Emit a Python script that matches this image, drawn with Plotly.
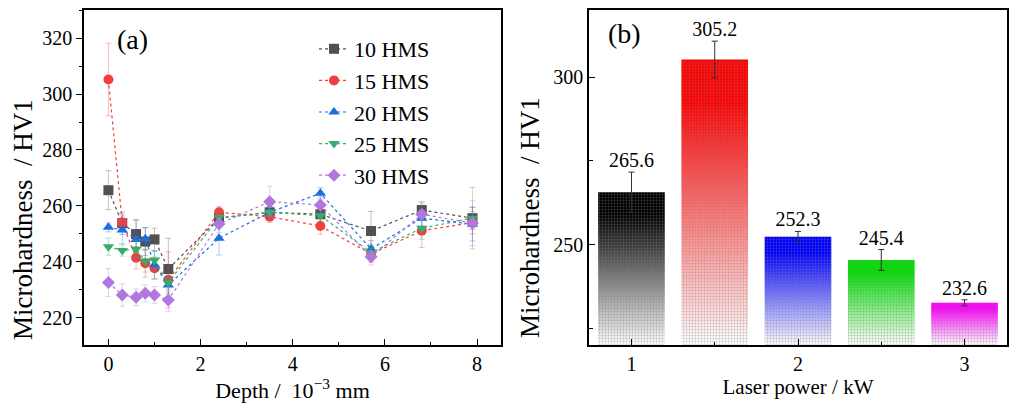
import plotly.graph_objects as go

# ---------------- data ----------------
depth = [0, 0.3, 0.6, 0.8, 1.0, 1.3, 2.4, 3.5, 4.6, 5.7, 6.8, 7.9]
series_names = ["10 HMS", "15 HMS", "20 HMS", "25 HMS", "30 HMS"]

hms10 = [265.6, 253.8, 249.9, 247.2, 248.0, 237.4, 255.6, 257.7, 257.0, 251.0, 258.5, 255.6]
err10 = [7.0, 4.0, 5.0, 5.0, 4.0, 11.0, 3.0, 2.0, 3.0, 7.0, 3.0, 4.0]
hms15 = [305.2, 254.0, 241.4, 239.5, 237.7, 233.5, 257.7, 256.1, 252.8, 242.8, 251.1, 254.0]
err15 = [13.0, 3.0, 4.0, 5.0, 4.0, 10.0, 2.0, 2.0, 3.0, 3.0, 6.0, 4.0]
hms20 = [252.3, 251.4, 248.0, 248.2, 238.9, 231.7, 248.4, 257.7, 264.5, 244.6, 255.6, 253.4]
err20 = [1.6, 5.0, 7.0, 4.0, 5.0, 3.0, 6.0, 2.0, 2.0, 3.0, 3.0, 6.0]
hms25 = [245.4, 244.0, 244.5, 240.3, 240.6, 232.5, 255.8, 257.7, 256.5, 243.3, 252.0, 255.6]
err25 = [3.1, 2.0, 3.0, 4.0, 3.0, 3.0, 2.0, 2.0, 2.0, 3.0, 4.0, 11.0]
hms30 = [232.6, 228.1, 227.3, 228.7, 228.1, 226.3, 253.5, 261.5, 260.3, 241.8, 257.0, 253.8]
err30 = [5.0, 4.0, 3.0, 3.0, 3.0, 4.0, 3.0, 5.5, 3.0, 3.0, 4.0, 8.0]

laser_power = [1, 1.5, 2, 2.5, 3]
bar_values = [265.6, 305.2, 252.3, 245.4, 232.6]
bar_errors = [6.0, 5.5, 1.6, 3.1, 0.9]

# ---------------- styles ----------------
FONT = "Liberation Serif"
line_colors = ["#515151", "#F14040", "#1A6FDF", "#37AD6B", "#B177DE"]
symbols = ["square", "circle", "triangle-up", "triangle-down", "diamond"]
bar_colors = ["#000000", "#FF0000", "#0000FF", "#00E000", "#FF00FF"]
BAR_WIDTH = 0.4
Y2_RANGE = [220, 320]
Y_TITLE = "Microhardness  / HV1"


def rgba(hex_color, a):
    h = hex_color.lstrip("#")
    r, g, b = int(h[0:2], 16), int(h[2:4], 16), int(h[4:6], 16)
    return f"rgba({r},{g},{b},{a})"


fig = go.Figure()

# ---------------- panel (a) ----------------
ys = [hms10, hms15, hms20, hms25, hms30]
es = [err10, err15, err20, err25, err30]
for name, y, e, c, s in zip(series_names, ys, es, line_colors, symbols):
    fig.add_trace(go.Scatter(
        x=depth, y=y, name=name, mode="lines+markers",
        line=dict(color=c, width=1.2, dash="dot"),
        marker=dict(symbol=s, size=10, color=c),
        error_y=dict(type="data", array=e, color=rgba(c, 0.35), thickness=1, width=3),
        xaxis="x", yaxis="y",
    ))

# ---------------- panel (b) ----------------
# gradient fill under each bar (base subplot)
for p, v, c in zip(laser_power, bar_values, bar_colors):
    x0, x1 = p - BAR_WIDTH / 2, p + BAR_WIDTH / 2
    fig.add_trace(go.Scatter(
        x=[x0, x1, x1, x0, x0], y=[Y2_RANGE[0], Y2_RANGE[0], v, v, Y2_RANGE[0]],
        mode="lines", fill="toself", line=dict(width=0),
        fillgradient=dict(type="vertical", start=Y2_RANGE[0], stop=v,
                          colorscale=[[0, "#FFFFFF"], [0.85, c], [1, c]]),
        showlegend=False, hoverinfo="skip", xaxis="x2", yaxis="y2",
    ))

# bars with dot texture, error bars and labels (overlay subplot)
fig.add_trace(go.Bar(
    x=laser_power, y=bar_values, width=BAR_WIDTH,
    marker=dict(color="rgba(0,0,0,0)", line=dict(width=0),
                pattern=dict(shape=".", size=3, solidity=0.3, fgcolor="#808080",
                             fgopacity=0.45, bgcolor="rgba(0,0,0,0)")),
    error_y=dict(type="data", array=bar_errors, color="#303030", thickness=1, width=3),
    showlegend=False, xaxis="x3", yaxis="y3",
))
fig.add_trace(go.Scatter(
    x=laser_power, y=[v + e for v, e in zip(bar_values, bar_errors)],
    mode="text", text=[f"{v:.1f}" for v in bar_values], textposition="top center",
    textfont=dict(family=FONT, size=20, color="black"),
    showlegend=False, hoverinfo="skip", xaxis="x3", yaxis="y3",
))

W, H = 1016, 415
MT, MB = 10, 70
PH = H - MT - MB

axis_common = dict(showline=True, linecolor="black", linewidth=1.5, mirror=True,
                   showgrid=False, zeroline=False, tickcolor="black", tickwidth=1.2,
                   tickfont=dict(family=FONT, size=20, color="black"))


def py(p):
    """pixel row -> paper y"""
    return (H - MB - p) / PH


def label(text, xpix, ypix, size, angle=0):
    return dict(text=text, x=xpix / W, y=py(ypix), xref="paper", yref="paper",
                xanchor="center", yanchor="middle", textangle=angle,
                showarrow=False, font=dict(family=FONT, size=size, color="black"))


fig.update_layout(
    width=W, height=H,
    margin=dict(l=0, r=0, t=MT, b=MB, autoexpand=False),
    paper_bgcolor="white", plot_bgcolor="white",
    font=dict(family=FONT, color="black"),
    showlegend=True,
    legend=dict(x=314 / W, y=py(28), xanchor="left", yanchor="top",
                bgcolor="rgba(0,0,0,0)", font=dict(family=FONT, size=22, color="black"),
                tracegroupgap=0),
    barmode="overlay",
    xaxis=dict(domain=[84 / W, 501 / W], range=[-0.53, 8.52], tick0=0, dtick=2,
               ticks="inside", ticklen=6,
               minor=dict(dtick=1, ticks="inside", ticklen=3, tickcolor="black"),
               title=dict(text="Depth /  10<sup>−3</sup> mm", font=dict(family=FONT, size=22), standoff=4),
               anchor="y", **axis_common),
    yaxis=dict(domain=[0, 1], range=[210.2, 330.1], tick0=0, dtick=20,
               ticks="outside", ticklen=6,
               minor=dict(dtick=10, ticks="outside", ticklen=3, tickcolor="black"),
               anchor="x", **axis_common),
    xaxis2=dict(domain=[589 / W, 1007 / W], range=[0.745, 3.255], tick0=1, dtick=1,
                ticks="inside", ticklen=6,
                minor=dict(dtick=0.5, ticks="inside", ticklen=3, tickcolor="black"),
                title=dict(text="Laser power / kW", font=dict(family=FONT, size=21), standoff=4),
                anchor="y2", **axis_common),
    yaxis2=dict(domain=[0, 1], range=Y2_RANGE, tick0=0, dtick=50,
                ticks="inside", ticklen=6,
                minor=dict(dtick=25, ticks="inside", ticklen=4, tickcolor="black"),
                anchor="x2", **axis_common),
    xaxis3=dict(overlaying="x2", range=[0.745, 3.255], visible=False, anchor="y3"),
    yaxis3=dict(overlaying="y2", range=Y2_RANGE, visible=False, anchor="x3"),
    annotations=[
        label(Y_TITLE, 23, 220, 27, -90),
        label(Y_TITLE, 530, 218, 27, -90),
        label("(a)", 132, 39, 28),
        label("(b)", 624, 34, 28),
    ],
)

fig.write_html("out.html")
